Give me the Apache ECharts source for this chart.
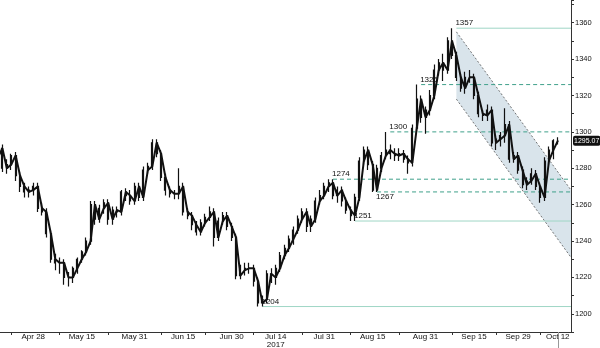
<!DOCTYPE html>
<html><head><meta charset="utf-8">
<script src="https://cdn.jsdelivr.net/npm/echarts@6/dist/echarts.min.js"></script>
<style>html,body{margin:0;padding:0;background:#fff}#c{width:600px;height:348px}</style>
</head><body><div id="c"></div>
<script>
const dates = ['Apr 18','Apr 19','Apr 20','Apr 21','Apr 24','Apr 25','Apr 26','Apr 27','Apr 28',
'May 1','May 2','May 3','May 4','May 5','May 8','May 9','May 10','May 11','May 12','May 15','May 16','May 17','May 18','May 19','May 22','May 23','May 24','May 25','May 26','May 29','May 30','May 31',
'Jun 1','Jun 2','Jun 5','Jun 6','Jun 7','Jun 8','Jun 9','Jun 12','Jun 13','Jun 14','Jun 15','Jun 16','Jun 19','Jun 20','Jun 21','Jun 22','Jun 23','Jun 26','Jun 27','Jun 28','Jun 29','Jun 30',
'Jul 3','Jul 4','Jul 5','Jul 6','Jul 7','Jul 10','Jul 11','Jul 12','Jul 13','Jul 14','Jul 17','Jul 18','Jul 19','Jul 20','Jul 21','Jul 24','Jul 25','Jul 26','Jul 27','Jul 28','Jul 31',
'Aug 1','Aug 2','Aug 3','Aug 4','Aug 7','Aug 8','Aug 9','Aug 10','Aug 11','Aug 14','Aug 15','Aug 16','Aug 17','Aug 18','Aug 21','Aug 22','Aug 23','Aug 24','Aug 25','Aug 28','Aug 29','Aug 30','Aug 31',
'Sep 1','Sep 4','Sep 5','Sep 6','Sep 7','Sep 8','Sep 11','Sep 12','Sep 13','Sep 14','Sep 15','Sep 18','Sep 19','Sep 20','Sep 21','Sep 22','Sep 25','Sep 26','Sep 27','Sep 28','Sep 29',
'Oct 2','Oct 3','Oct 4','Oct 5','Oct 6','Oct 9','Oct 10','Oct 11','Oct 12','Oct 13','Oct 16','Oct 17'];

const price = [1286,1291,1280,1282,1287,1276,1270,1267,1268,1270,
1258,1256,1244,1230,1228,1228,1220,1220,1225,1230,
1234,1240,1260,1252,1258,1261,1252,1257,1256,1267,
1265,1262,1270,1264,1279,1281,1294,1288,1275,1268,
1266,1266,1270,1256,1254,1249,1245,1250,1253,1256,
1242,1251,1254,1248,1242,1221,1224,1225,1225,1218,
1206,1208,1222,1220,1225,1232,1236,1241,1246,1252,
1256,1248,1252,1262,1265,1270,1272,1265,1268,1262,
1257,1254,1264,1284,1290,1282,1268,1280,1287,1290,
1288,1287,1288,1285,1283,1302,1318,1308,1312,1320,
1334,1338,1334,1350,1342,1330,1324,1330,1330,1320,
1310,1309,1312,1294,1296,1298,1304,1285,1287,1279,
1271,1273,1277,1270,1264,1284,1290,1295.07];

const high = [1292,1293,1285,1288,1289,1278,1272,1270,1272,1272,
1261,1258,1246,1233,1231,1230,1223,1226,1231,1235,
1242,1262,1262,1260,1263,1263,1259,1259,1268,1269,
1268,1272,1272,1281,1283,1296,1296,1290,1277,1270,
1268,1280,1272,1258,1256,1251,1252,1255,1259,1258,
1253,1256,1256,1250,1244,1227,1228,1228,1227,1220,
1210,1224,1225,1227,1234,1238,1243,1248,1254,1258,
1258,1254,1264,1268,1272,1274,1274,1270,1270,1264,
1259,1266,1286,1292,1292,1284,1282,1289,1300,1293,
1291,1291,1290,1287,1304,1326,1320,1314,1323,1337,
1340,1343,1352,1357,1344,1332,1333,1334,1332,1322,
1312,1315,1314,1298,1300,1313,1306,1289,1289,1281,
1275,1280,1279,1272,1286,1292,1296,1297];

const low = [1283,1278,1277,1279,1273,1267,1264,1264,1265,1256,
1254,1242,1228,1224,1222,1216,1215,1217,1222,1228,
1232,1238,1249,1250,1255,1249,1249,1253,1254,1262,
1260,1260,1262,1262,1277,1279,1286,1273,1265,1264,
1263,1263,1254,1252,1246,1243,1243,1248,1251,1237,
1240,1249,1246,1240,1219,1219,1221,1222,1215,1204,
1204,1206,1217,1216,1223,1230,1234,1238,1244,1250,
1245,1245,1250,1260,1263,1267,1263,1261,1259,1255,
1251,1251,1262,1282,1279,1267,1267,1278,1285,1285,
1284,1284,1283,1277,1281,1300,1305,1299,1309,1318,
1331,1328,1332,1340,1328,1322,1321,1327,1318,1308,
1306,1306,1292,1290,1292,1294,1283,1283,1277,1269,
1268,1271,1268,1261,1262,1282,1285,1293];

const xLabels = ['Apr 28','May 15','May 31','Jun 15','Jun 30','Jul 14','Jul 31','Aug 15','Aug 31','Sep 15','Sep 29','Oct 12'];
const xTickDates = ['Apr 21','May 8','May 23','Jun 8','Jun 22','Jul 7','Jul 24','Aug 8','Aug 23','Sep 8','Sep 22','Oct 6'];
const yearLabel = ['Jul 14', '2017'];
const currentDate = 'Oct 12';
const lastPrice = 1295.07;
const solidLevels = [['Sep 11',1357],['Aug 9',1251],['Jul 11',1204]];
const dashedLevels = [['Aug 30',1326],['Aug 21',1300],['Aug 2',1274],['Aug 16',1267]];
const labelsBelow = [1267];
const levelEnd = 'Oct 17';
const channelUpper = [['Sep 11',1355],['Oct 17',1268]];
const channelLower = [['Sep 11',1318],['Oct 17',1231]];

const FONT = 'Liberation Sans';
const TXT = '#111';
const idx = d => dates.indexOf(d);
const candles = price.map((p,i)=>[p, i+1<price.length?price[i+1]:p, low[i], high[i]]);

const chart = echarts.init(document.getElementById('c'), null, {renderer:'canvas'});

function levelLines(levels, dashed, color){
  return function(params, api){
    const children = levels.map(([d,v])=>{
      const a = api.coord([idx(d), v]);
      const b = api.coord([idx(levelEnd), v]);
      return {type:'line', shape:{x1:a[0],y1:a[1],x2:b[0],y2:b[1]},
        style:{stroke:color, lineWidth:1, lineDash: dashed?[4,3]:null}};
    });
    return {type:'group', children};
  };
}
function levelLabels(params, api){
  const children = solidLevels.concat(dashedLevels).map(([d,v])=>{
    const a = api.coord([idx(d), v]);
    const below = labelsBelow.indexOf(v) >= 0;
    return {type:'text', style:{text:String(v), x:a[0]-1, y: below? a[1]+1 : a[1]-1,
      align:'left', verticalAlign: below?'top':'bottom', fontSize:8, fontFamily:FONT, fill:TXT}};
  });
  return {type:'group', children};
}

chart.setOption({
  animation:false,
  backgroundColor:'#fff',
  grid:{left:-2, right:29, top:0, bottom:16, containLabel:false, outerBoundsMode:'none'},
  xAxis:[{
    type:'category', data:dates, boundaryGap:false, position:'bottom',
    axisLine:{show:true, lineStyle:{color:'#333', width:1}},
    axisTick:{show:true, length:3, lineStyle:{color:'#333'}, interval:(i,v)=>xTickDates.indexOf(v)>=0},
    axisLabel:{show:true, interval:(i,v)=>xLabels.indexOf(v)>=0, margin:1,
      fontSize:8, fontFamily:FONT, color:TXT, lineHeight:8,
      formatter:(v)=> v===yearLabel[0] ? v+'\n'+yearLabel[1] : v},
    splitLine:{show:false}
  },{
    type:'category', data:dates, boundaryGap:false, position:'bottom',
    axisLine:{show:false},
    axisTick:{show:true, length:16, lineStyle:{color:'#999'}, interval:(i,v)=>v===currentDate},
    axisLabel:{show:false}, splitLine:{show:false}
  }],
  yAxis:{
    type:'value', position:'right', min:1190, max:1372.5, interval:10,
    axisLine:{show:true, lineStyle:{color:'#333'}},
    axisTick:{show:true, length:3, lineStyle:{color:'#333'}},
    axisLabel:{margin:4, fontSize:7.5, fontFamily:FONT, color:TXT,
      formatter:(v)=> v%20===0 ? String(v) : ''},
    splitLine:{show:false}
  },
  series:[
    {type:'custom', silent:true, z:1, data:[0],
      renderItem:function(params, api){
        const u0=api.coord([idx(channelUpper[0][0]),channelUpper[0][1]]);
        const u1=api.coord([idx(channelUpper[1][0]),channelUpper[1][1]]);
        const l0=api.coord([idx(channelLower[0][0]),channelLower[0][1]]);
        const l1=api.coord([idx(channelLower[1][0]),channelLower[1][1]]);
        return {type:'group', children:[
          {type:'polygon', shape:{points:[u0,u1,l1,l0]}, style:{fill:'#d9e4eb'}},
          {type:'line', shape:{x1:u0[0],y1:u0[1],x2:u1[0],y2:u1[1]}, style:{stroke:'#555', lineWidth:0.8, lineDash:[2,2]}},
          {type:'line', shape:{x1:l0[0],y1:l0[1],x2:l1[0],y2:l1[1]}, style:{stroke:'#555', lineWidth:0.8, lineDash:[2,2]}}
        ]};
      }},
    {type:'custom', silent:true, z:2, data:[0], renderItem: levelLines(solidLevels, false, '#9fd6c6')},
    {type:'custom', silent:true, z:2, data:[0], renderItem: levelLines(dashedLevels, true, '#3fa08a')},
    {type:'candlestick', silent:true, z:3, data:candles, barWidth:1.5,
      itemStyle:{color:'#111', color0:'#111', borderColor:'#111', borderColor0:'#111', borderWidth:1.2}},
    {type:'line', silent:true, z:4, data:price, symbol:'none',
      lineStyle:{color:'#111', width:2},
      markLine:{symbol:'none', silent:true, lineStyle:{color:'rgba(0,0,0,0)', width:0},
        label:{show:true, position:'end', distance:2, formatter:String(lastPrice),
          backgroundColor:'#111', color:'#fff', padding:[2,1,1,1], borderRadius:2,
          fontSize:7, fontFamily:FONT},
        emphasis:{disabled:true},
        data:[{yAxis:lastPrice}]}},
    {type:'custom', silent:true, z:5, data:[0], renderItem: levelLabels}
  ]
});
</script>
</body></html>
